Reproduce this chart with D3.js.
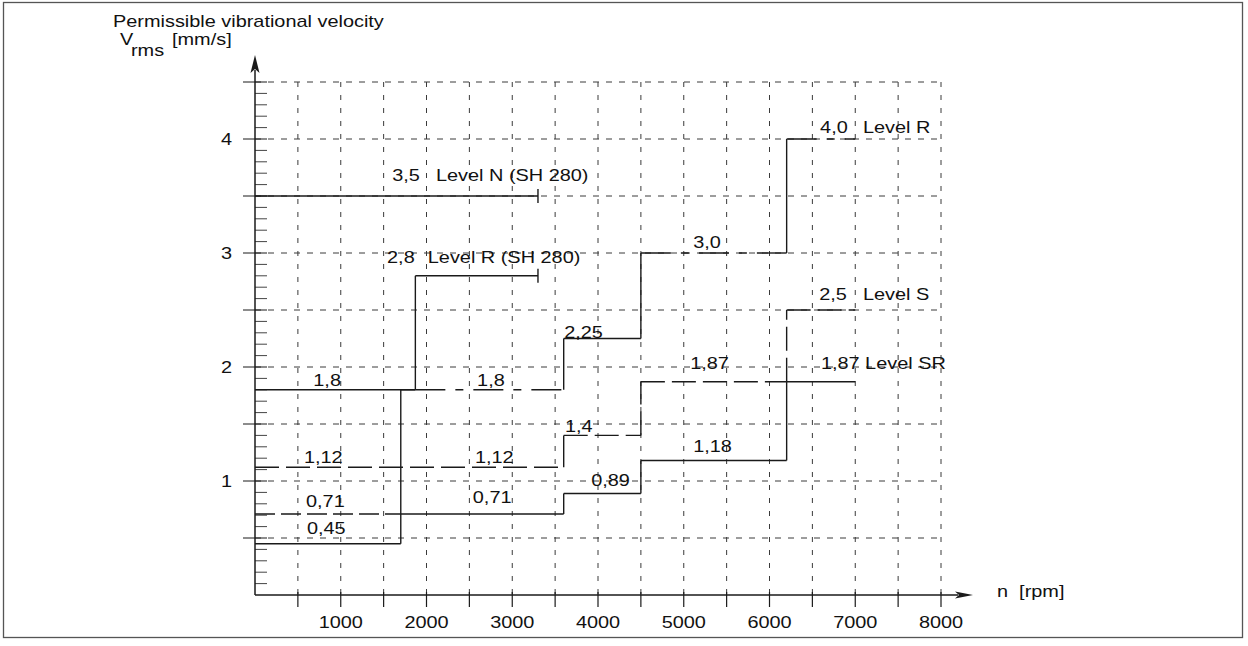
<!DOCTYPE html>
<html><head><meta charset="utf-8">
<script src="https://cdn.jsdelivr.net/npm/d3@7"></script>
<style>
body{margin:0;background:#fff}
svg text{font-family:"Liberation Sans",Arial,sans-serif;fill:#111;white-space:pre}
</style>
</head><body><svg id="c" width="1248" height="646"></svg>
<script>
// ---------- data ----------
const xTickValues = [1000, 2000, 3000, 4000, 5000, 6000, 7000, 8000];
const yTickValues = [1, 2, 3, 4];

// step series: value[i] holds from rpm[i] to rpm[i+1]
const levelN_SH280_rpm = [0, 3300];
const levelN_SH280_val = [3.5];
const levelR_SH280_rpm = [0, 1870, 3300];
const levelR_SH280_val = [1.8, 2.8];
const lowStart_rpm = [0, 1700, 1870];
const lowStart_val = [0.45, 1.8];
const levelR_rpm = [1870, 3600, 4500, 6200, 7000];
const levelR_val = [1.8, 2.25, 3.0, 4.0];
const levelS_rpm = [0, 3600, 4500, 6200, 7000];
const levelS_val = [1.12, 1.4, 1.87, 2.5];
const levelSR_rpm = [0, 1700, 3600, 4500, 6200, 7000];
const levelSR_val = [0.71, 0.71, 0.89, 1.18, 1.87];

// value labels: value and rpm anchor
const valueLabelValues = [3.5, 2.8, 4.0, 3.0, 2.5, 2.25, 1.87, 1.87, 1.8, 1.8, 1.4, 1.12, 1.12, 1.18, 0.89, 0.71, 0.71, 0.45];
const valueLabelRpm    = [1600, 1540, 6590, 5110, 6580, 3605, 5075, 6600, 680, 2590, 3615, 570, 2565, 5110, 3920, 595, 2540, 605];
const levelNames = ["Level N (SH 280)", "Level R (SH 280)", "Level R", "Level S", "Level SR"];
const levelNameValues = [3.5, 2.8, 4.0, 2.5, 1.87];
const levelNameRpm = [2110, 2015, 7090, 7090, 7115];

// ---------- drawing ----------
const svg = d3.select("#c");
const x = d3.scaleLinear().domain([0, 8000]).range([255, 941]);
const y = d3.scaleLinear().domain([0, 4.5]).range([595, 82]);
const INK = "#1a1a1a";
const SX = 1.17, FS = 17;

function txt(str, px, py, anchor) {
  return svg.append("text")
    .attr("transform", `translate(${px},${py}) scale(${SX},1)`)
    .attr("text-anchor", anchor || "start")
    .attr("xml:space", "preserve")
    .style("font-size", FS + "px")
    .text(str);
}
const fmt = v => {
  const s = String(v);
  const dec = s.includes(".") ? s.split(".")[1].length : 1;
  return v.toFixed(Math.max(1, dec)).replace(".", ",");
};

// frame
svg.append("rect").attr("x", 3.5).attr("y", 2.5).attr("width", 1239).attr("height", 635)
  .attr("fill", "none").attr("stroke", "#555").attr("stroke-width", 1.3);

// grid
const gridX = d3.range(500, 8001, 500);
const gridY = d3.range(0.5, 4.51, 0.5);
svg.append("g").selectAll("line").data(gridX).join("line")
  .attr("x1", d => x(d)).attr("x2", d => x(d))
  .attr("y1", y(4.5)).attr("y2", y(0))
  .attr("stroke", "#3a3a3a").attr("stroke-width", 1).attr("stroke-dasharray", "5,8");
svg.append("g").selectAll("line").data(gridY).join("line")
  .attr("x1", x(0)).attr("x2", x(8000))
  .attr("y1", d => y(d)).attr("y2", d => y(d))
  .attr("stroke", "#3a3a3a").attr("stroke-width", 1).attr("stroke-dasharray", "6,7");

// y axis minor/major ticks
const yMinor = d3.range(1, 46).map(i => i / 10);
svg.append("g").selectAll("line").data(yMinor).join("line")
  .attr("x1", d => (Math.round(d * 10) % 5 === 0) ? x(0) - 12 : x(0))
  .attr("x2", x(0) + 12)
  .attr("y1", d => y(d)).attr("y2", d => y(d))
  .attr("stroke", d => (Math.round(d * 10) % 5 === 0) ? INK : "#444").attr("stroke-width", 1);

// x axis ticks
svg.append("g").selectAll("line").data(gridX).join("line")
  .attr("x1", d => x(d)).attr("x2", d => x(d))
  .attr("y1", y(0) - 3).attr("y2", y(0) + 12)
  .attr("stroke", INK).attr("stroke-width", 1.2);

// axes
svg.append("line").attr("x1", x(0)).attr("x2", 958).attr("y1", y(0)).attr("y2", y(0))
  .attr("stroke", INK).attr("stroke-width", 1.5);
svg.append("line").attr("x1", x(0)).attr("x2", x(0)).attr("y1", y(0)).attr("y2", 70)
  .attr("stroke", INK).attr("stroke-width", 1.5);
svg.append("path").attr("d", `M${x(0)},55 L${x(0) - 4.5},73 L${x(0)},69 L${x(0) + 4.5},73 Z`).attr("fill", INK);
svg.append("path").attr("d", `M973,${y(0)} L955,${y(0) - 3.5} L959,${y(0)} L955,${y(0) + 3.5} Z`).attr("fill", INK);

// tick labels
yTickValues.forEach(v => txt(String(v), 232, y(v) + 5.5, "end"));
xTickValues.forEach(v => txt(String(v), x(v), 628, "middle"));

// axis titles
txt("Permissible vibrational velocity", 113, 27);
txt("V", 120, 45);
txt("rms", 131, 56);
txt("[mm/s]", 172, 45);
txt("n  [rpm]", 997, 597);

// series
const DASH_S = "24,7", DASH_R = "30,10,8,10", DASH_SR = "20,6";
function drawStep(rpm, val, hStyles, vStyles, endTick) {
  const g = svg.append("g").attr("stroke", INK).attr("stroke-width", 1.4).attr("fill", "none");
  for (let i = 0; i < val.length; i++) {
    g.append("line").attr("x1", x(rpm[i])).attr("x2", x(rpm[i + 1]))
      .attr("y1", y(val[i])).attr("y2", y(val[i]))
      .attr("stroke-dasharray", hStyles[i] || null);
    if (i > 0 && val[i] !== val[i - 1]) {
      g.append("line").attr("x1", x(rpm[i])).attr("x2", x(rpm[i]))
        .attr("y1", y(val[i - 1])).attr("y2", y(val[i]))
        .attr("stroke-dasharray", vStyles[i - 1] || null);
    }
  }
  if (endTick) {
    const last = val[val.length - 1], r = rpm[rpm.length - 1];
    g.append("line").attr("x1", x(r)).attr("x2", x(r)).attr("y1", y(last) - 7).attr("y2", y(last) + 7);
  }
}
drawStep(levelN_SH280_rpm, levelN_SH280_val, [null], [], true);
drawStep(levelR_SH280_rpm, levelR_SH280_val, [null, null], [null], true);
drawStep(lowStart_rpm, lowStart_val, [null, null], [null], false);
drawStep(levelR_rpm, levelR_val, [DASH_R, null, DASH_R, DASH_R], [null, null, null], false);
drawStep(levelS_rpm, levelS_val, [DASH_S, DASH_S, DASH_S, DASH_S], [null, DASH_S, DASH_S], false);
drawStep(levelSR_rpm, levelSR_val, [DASH_SR, null, null, null, null], [null, null, null, null], false);

// value labels
const labelDy = [-15, -13, -6, -5, -10, -1, -13, -13, -4, -4, -3, -4, -4, -8, -8, -7, -11, -10];
valueLabelValues.forEach((v, i) => txt(fmt(v), x(valueLabelRpm[i]), y(v) + labelDy[i]));
const nameDy = [-15, -13, -6, -10, -13];
levelNames.forEach((n, i) => txt(n, x(levelNameRpm[i]), y(levelNameValues[i]) + nameDy[i]));
</script>
</body></html>
